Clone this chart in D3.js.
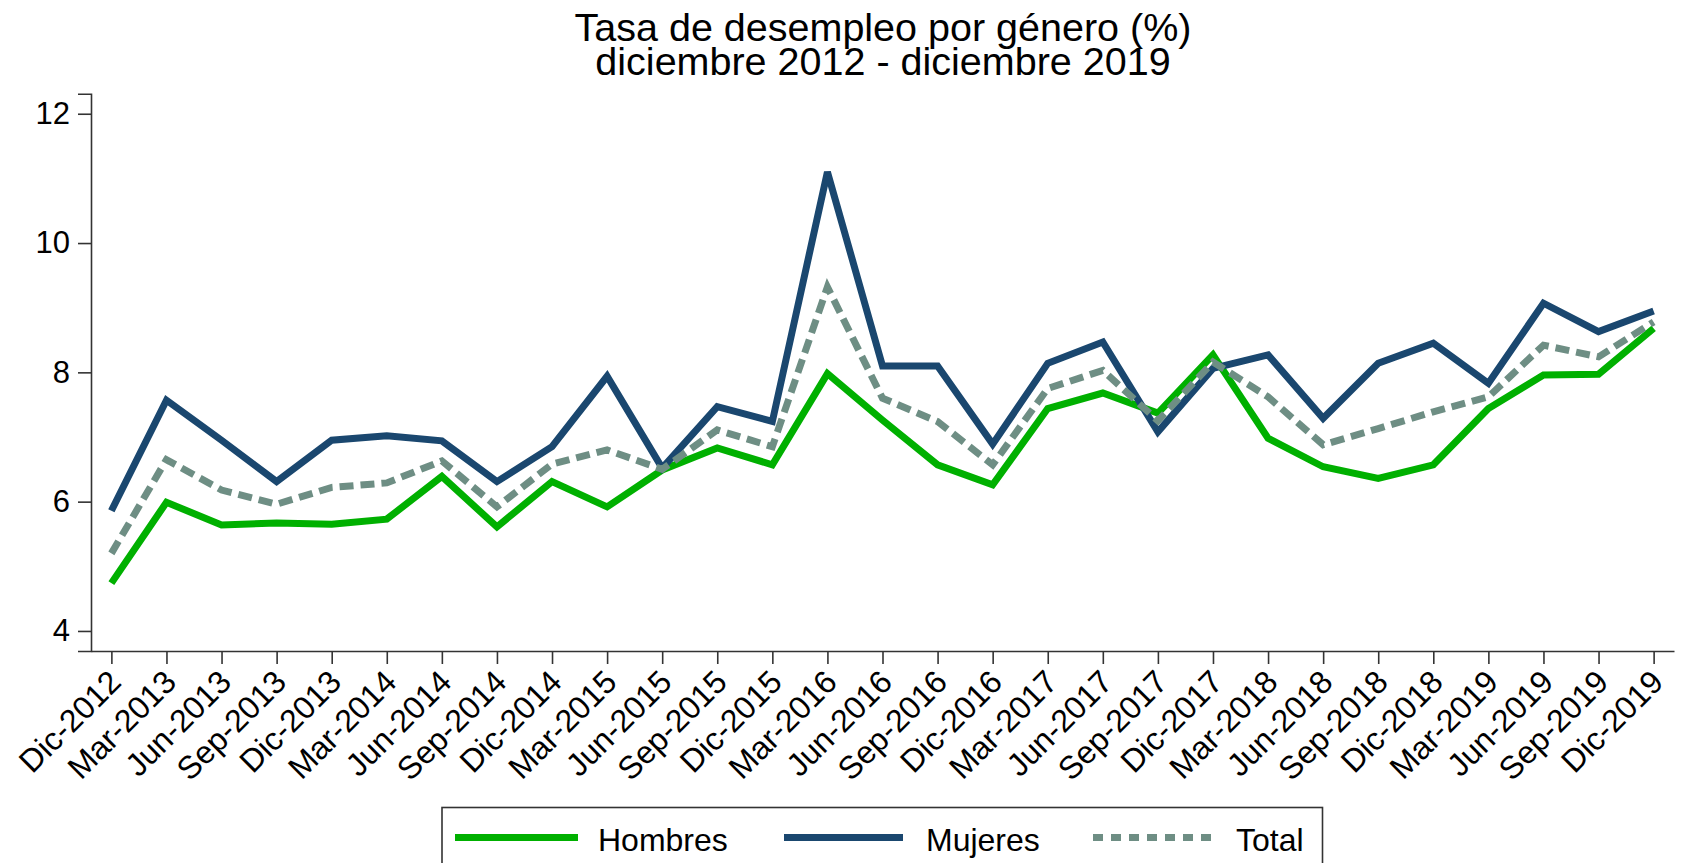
<!DOCTYPE html>
<html>
<head>
<meta charset="utf-8">
<script src="https://cdn.jsdelivr.net/npm/d3@7"></script>
<style>
  html, body { margin: 0; padding: 0; background: #ffffff; }
  svg { display: block; }
  text { font-family: "Liberation Sans", Arial, Helvetica, sans-serif; fill: #000; }
</style>
</head>
<body>
<svg id="chart" width="1683" height="863"></svg>
<script>
// ---- data ----
const categories = ["Dic-2012","Mar-2013","Jun-2013","Sep-2013","Dic-2013","Mar-2014","Jun-2014","Sep-2014","Dic-2014","Mar-2015","Jun-2015","Sep-2015","Dic-2015","Mar-2016","Jun-2016","Sep-2016","Dic-2016","Mar-2017","Jun-2017","Sep-2017","Dic-2017","Mar-2018","Jun-2018","Sep-2018","Dic-2018","Mar-2019","Jun-2019","Sep-2019","Dic-2019"];
const hombres = [4.74,5.99,5.64,5.67,5.65,5.73,6.39,5.61,6.31,5.92,6.49,6.83,6.57,7.98,7.26,6.57,6.26,7.44,7.68,7.37,8.27,6.98,6.54,6.36,6.57,7.44,7.96,7.97,8.68];
const mujeres = [5.86,7.57,6.95,6.31,6.95,7.02,6.94,6.31,6.85,7.94,6.52,7.47,7.24,11.10,8.10,8.10,6.89,8.14,8.47,7.08,8.06,8.27,7.29,8.14,8.45,7.83,9.07,8.63,8.95];
const total   = [5.20,6.65,6.18,5.96,6.22,6.29,6.63,5.92,6.58,6.80,6.50,7.11,6.85,9.32,7.60,7.24,6.57,7.75,8.03,7.25,8.16,7.62,6.88,7.13,7.39,7.62,8.42,8.24,8.78];
const yTicks = [4, 6, 8, 10, 12];
const seriesNames = ["Hombres", "Mujeres", "Total"];
const titleLines = ["Tasa de desempleo por género (%)", "diciembre 2012 - diciembre 2019"];

// ---- layout ----
const svg = d3.select("#chart");
const pLeft = 91, pRight = 1674, pTop = 93.7, pBottom = 651;
const colors = { Hombres: "rgb(0,176,0)", Mujeres: "rgb(26,71,111)", Total: "rgb(110,142,132)" };
const dashes = { Hombres: null, Mujeres: null, Total: "14,7" };

const x = d3.scalePoint().domain(categories).range([pLeft, pRight]).padding(0.37);
const y = d3.scaleLinear().domain([3.69, 12.31]).range([pBottom, pTop]);

// title
svg.append("g").selectAll("text").data(titleLines).join("text")
  .attr("x", 883).attr("y", (d, i) => i === 0 ? 41 : 74.5)
  .attr("text-anchor", "middle").attr("font-size", "39.5px").text(d => d);

// y axis
const yAxis = svg.append("g").attr("transform", `translate(${pLeft},0)`)
  .call(d3.axisLeft(y).tickValues(yTicks).tickSize(13).tickPadding(8).tickFormat(d3.format("d")));
yAxis.select(".domain").attr("stroke", "#333").attr("stroke-width", 1.6);
yAxis.selectAll(".tick line").attr("stroke", "#333").attr("stroke-width", 1.6);
yAxis.selectAll(".tick text").attr("font-size", "31px").attr("font-family", "Liberation Sans, Arial, sans-serif").attr("fill", "#000");

// x axis
const xAxis = svg.append("g").attr("transform", `translate(0,${pBottom})`)
  .call(d3.axisBottom(x).tickSize(13).tickSizeOuter(0));
xAxis.select(".domain").attr("stroke", "#333").attr("stroke-width", 1.6);
xAxis.selectAll(".tick line").attr("stroke", "#333").attr("stroke-width", 1.6);
xAxis.selectAll(".tick text")
  .attr("font-size", "32px").attr("font-family", "Liberation Sans, Arial, sans-serif").attr("fill", "#000")
  .attr("text-anchor", "end")
  .attr("dy", null)
  .attr("y", 0)
  .attr("transform", "translate(11,33) rotate(-45)");

// lines
const seriesData = [hombres, mujeres, total];
const line = d3.line().x((d, i) => x(categories[i])).y(d => y(d));
svg.append("g").selectAll("path").data(seriesNames).join("path")
  .attr("d", (name, k) => line(seriesData[k]))
  .attr("fill", "none")
  .attr("stroke", name => colors[name])
  .attr("stroke-width", 7)
  .attr("stroke-linejoin", "miter")
  .attr("stroke-dasharray", name => dashes[name]);

// legend
const lg = svg.append("g");
lg.append("rect").attr("x", 442).attr("y", 807.5).attr("width", 880.5).attr("height", 80)
  .attr("fill", "#fff").attr("stroke", "#333").attr("stroke-width", 1.6);
const legendItems = [
  { name: "Hombres", x1: 455, x2: 578, tx: 598 },
  { name: "Mujeres", x1: 784, x2: 903, tx: 926 },
  { name: "Total",   x1: 1093, x2: 1212, tx: 1236 }
];
const li = lg.selectAll("g.item").data(legendItems).join("g").attr("class", "item");
li.append("line")
  .attr("x1", d => d.x1).attr("x2", d => d.x2).attr("y1", 837.5).attr("y2", 837.5)
  .attr("stroke", d => colors[d.name]).attr("stroke-width", 7)
  .attr("stroke-dasharray", d => d.name === "Total" ? "10,8" : null);
li.append("text").attr("x", d => d.tx).attr("y", 850.5).attr("font-size", "32px").text(d => d.name);
</script>
</body>
</html>
